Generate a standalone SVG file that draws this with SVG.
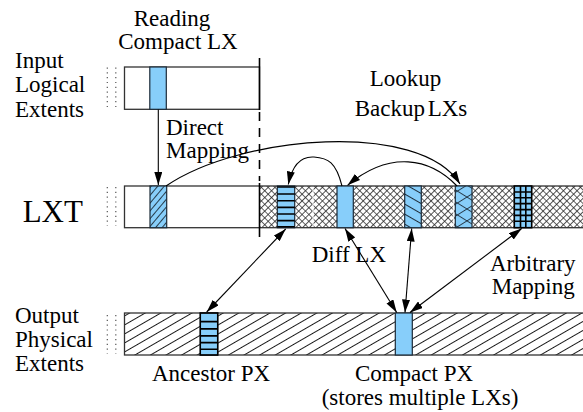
<svg xmlns="http://www.w3.org/2000/svg" width="583" height="412" viewBox="0 0 583 412">
<style>
.bar{stroke:#333;stroke-width:1.3}
.blk{stroke:#1c2b38;stroke-width:1.2}
.conn{fill:none;stroke:#000;stroke-width:1.1}
.dots{stroke:#555;stroke-width:1.2;stroke-dasharray:1.2,3.6}
.stripe{stroke:#000;stroke-width:1.6}
</style>
<defs>
<marker id="ah" markerWidth="13" markerHeight="8" refX="13" refY="4" orient="auto-start-reverse" markerUnits="userSpaceOnUse">
<path d="M0,0 L13,4 L0,8 z" fill="#000"/>
</marker>
<pattern id="crossBg" patternUnits="userSpaceOnUse" width="4.8" height="4.8" patternTransform="rotate(45)">
<rect width="4.8" height="4.8" fill="#fff"/>
<path d="M0,0 H4.8 M0,0 V4.8" stroke="#2a2a2a" stroke-width="1.6"/>
</pattern>
<pattern id="hatchOut" patternUnits="userSpaceOnUse" width="20" height="7.8" patternTransform="rotate(-30)">
<rect width="20" height="7.8" fill="#fff"/>
<path d="M0,0.5 H20" stroke="#000" stroke-width="0.9"/>
</pattern>
<pattern id="hatchBlue45" patternUnits="userSpaceOnUse" width="20" height="5" patternTransform="rotate(-50)">
<rect width="20" height="5" fill="#87cefa"/>
<path d="M0,0.5 H20" stroke="#1c2b38" stroke-width="0.9"/>
</pattern>
<pattern id="diagBlue" patternUnits="userSpaceOnUse" width="20" height="8.7" patternTransform="rotate(30)">
<rect width="20" height="8.7" fill="#87cefa"/>
<path d="M0,0.5 H20" stroke="#1c2b38" stroke-width="1"/>
</pattern>
<pattern id="crossA" patternUnits="userSpaceOnUse" width="30" height="10.1" patternTransform="rotate(32)">
<path d="M0,0.5 H30" stroke="#1c2b38" stroke-width="0.9"/>
</pattern>
<pattern id="crossB" patternUnits="userSpaceOnUse" width="30" height="10.1" patternTransform="rotate(-32)">
<path d="M0,0.5 H30" stroke="#1c2b38" stroke-width="0.9"/>
</pattern>
</defs>
<rect width="583" height="412" fill="#fff"/>

<g id="labels">
<text x="172" y="26" text-anchor="middle" font-family="Liberation Serif, serif" font-size="23">Reading</text>
<text x="178" y="49.3" text-anchor="middle" font-family="Liberation Serif, serif" font-size="23">Compact LX</text>
<text x="15" y="67.7" font-family="Liberation Serif, serif" font-size="23">Input</text>
<text x="15" y="92.3" font-family="Liberation Serif, serif" font-size="23">Logical</text>
<text x="15" y="116.7" font-family="Liberation Serif, serif" font-size="23">Extents</text>
<text x="22.7" y="221.7" font-family="Liberation Serif, serif" font-size="31">LXT</text>
<text x="15" y="322.7" font-family="Liberation Serif, serif" font-size="23">Output</text>
<text x="15" y="346.7" font-family="Liberation Serif, serif" font-size="23">Physical</text>
<text x="15" y="371" font-family="Liberation Serif, serif" font-size="23">Extents</text>
<text x="405.5" y="86" text-anchor="middle" font-family="Liberation Serif, serif" font-size="23">Lookup</text>
<text x="411" y="115.7" text-anchor="middle" word-spacing="-3" font-family="Liberation Serif, serif" font-size="23">Backup LXs</text>
<text x="166" y="135" font-family="Liberation Serif, serif" font-size="23">Direct</text>
<text x="166" y="158.3" font-family="Liberation Serif, serif" font-size="23">Mapping</text>
<text x="311.7" y="261.7" font-family="Liberation Serif, serif" font-size="23">Diff LX</text>
<text x="490" y="271" font-family="Liberation Serif, serif" font-size="23">Arbitrary</text>
<text x="491.7" y="294" font-family="Liberation Serif, serif" font-size="23">Mapping</text>
<text x="211" y="381" text-anchor="middle" font-family="Liberation Serif, serif" font-size="23">Ancestor PX</text>
<text x="414" y="381" text-anchor="middle" font-family="Liberation Serif, serif" font-size="23">Compact PX</text>
<text x="420" y="405" text-anchor="middle" font-family="Liberation Serif, serif" font-size="23">(stores multiple LXs)</text>
</g>

<g id="input-extents">
<path class="dots" d="M107.3,67.5 V110 M115.8,67.5 V110"/>
<rect class="bar" x="124.5" y="67" width="135" height="42.3" fill="#fff"/>
<rect class="blk" x="149.8" y="67" width="16.5" height="42.3" fill="#87cefa"/>
</g>

<g id="lxt">
<path class="dots" d="M107.3,187 V226 M115.8,187 V226"/>
<rect x="260" y="186" width="330" height="41.7" fill="url(#crossBg)"/>
<path d="M313,186.5 V227.3 M453.5,186.5 V227.3" stroke="#fff" stroke-width="1.4" opacity="0.8"/>
<rect class="bar" x="124.5" y="186" width="470" height="41.7" fill="none"/>
<rect class="blk" x="150" y="186" width="16.7" height="41.7" fill="url(#hatchBlue45)"/>
<g id="lxt-ancestor">
<rect class="blk" x="277.3" y="186" width="17.4" height="41.7" fill="#87cefa"/>
<path class="stripe" d="M277.3,187 H294.7 M277.3,194 H294.7 M277.3,200.8 H294.7 M277.3,207.4 H294.7 M277.3,214 H294.7 M277.3,220.6 H294.7 M277.3,226.8 H294.7"/>
</g>
<rect id="lxt-diff" class="blk" x="337" y="186" width="16.3" height="41.7" fill="#87cefa"/>
<rect id="lxt-diag" class="blk" x="404.7" y="186" width="16.6" height="41.7" fill="url(#diagBlue)"/>
<g id="lxt-cross">
<rect x="455.3" y="186" width="16.7" height="41.7" fill="#87cefa"/>
<rect x="455.3" y="186" width="16.7" height="41.7" fill="url(#crossA)"/>
<rect x="455.3" y="186" width="16.7" height="41.7" fill="url(#crossB)"/>
<rect class="blk" x="455.3" y="186" width="16.7" height="41.7" fill="none"/>
</g>
<g id="lxt-grid">
<rect x="514.3" y="186" width="17.4" height="41.7" fill="#87cefa"/>
<path class="stripe" d="M514.3,192 H531.7 M514.3,197.8 H531.7 M514.3,203.6 H531.7 M514.3,209.6 H531.7 M514.3,215.4 H531.7 M514.3,221.2 H531.7 M520.5,186 V227.7 M525.8,186 V227.7"/>
<rect x="514.3" y="186" width="17.4" height="41.7" fill="none" stroke="#000" stroke-width="1.6"/>
</g>
</g>

<g id="output-extents">
<path class="dots" d="M107.3,315 V354 M115.8,315 V354"/>
<rect class="bar" x="124.5" y="313" width="470" height="42" fill="url(#hatchOut)"/>
<g id="ancestor-px">
<rect class="blk" x="200.3" y="313" width="17.4" height="42" fill="#87cefa"/>
<path class="stripe" d="M200.3,321.6 H217.7 M200.3,328.9 H217.7 M200.3,335.9 H217.7 M200.3,342.6 H217.7 M200.3,349.2 H217.7"/>
<rect x="200.3" y="313" width="17.4" height="42" fill="none" stroke="#000" stroke-width="1.5"/>
</g>
<rect id="compact-px" class="blk" x="395.3" y="313" width="17" height="42" fill="#87cefa"/>
</g>

<g id="divider">
<path d="M259.5,58 V110" stroke="#000" stroke-width="1.6"/>
<path d="M259.5,112 V181" stroke="#000" stroke-width="1.6" stroke-dasharray="9,7"/>
<path d="M259.5,183 V237" stroke="#000" stroke-width="1.6"/>
</g>

<g id="connectors">
<path class="conn" d="M158.3,109.5 V185" marker-end="url(#ah)"/>
<path class="conn" d="M166,186 C240,135 420,120 460,184" marker-end="url(#ah)"/>
<path class="conn" d="M342,186 C336,162 328,158 314,157 C300,156 292,166 288.3,184.5" marker-end="url(#ah)"/>
<path class="conn" d="M457,186 C430,158 390,150 347.5,185.3" marker-end="url(#ah)"/>
<path class="conn" d="M285.7,229 L206.7,312" marker-start="url(#ah)" marker-end="url(#ah)"/>
<path class="conn" d="M345,228.5 L396.7,312.5" marker-start="url(#ah)" marker-end="url(#ah)"/>
<path class="conn" d="M411.7,228.5 L405,312.5" marker-start="url(#ah)" marker-end="url(#ah)"/>
<path class="conn" d="M521.7,228.5 L410,312.5" marker-start="url(#ah)" marker-end="url(#ah)"/>
</g>
</svg>
